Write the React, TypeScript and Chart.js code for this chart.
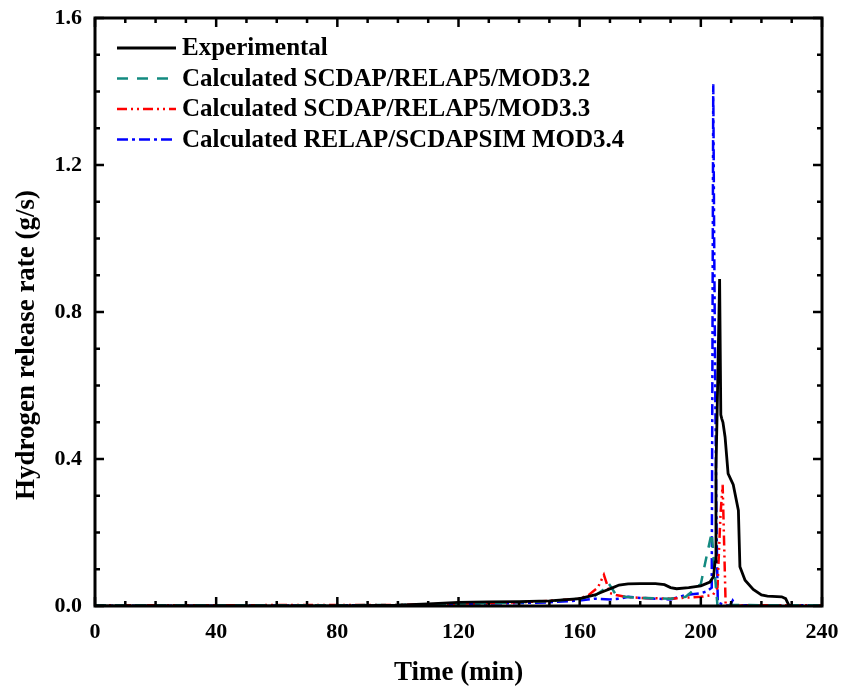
import React, { useEffect, useRef } from "react";
import { Chart, registerables } from "chart.js";

Chart.register(...registerables);

// ---- Data (time in min, hydrogen release rate in g/s) ----
const expTime = [0, 20, 40, 60, 80, 100, 110, 120, 130, 140, 150, 160, 165, 168, 171, 173, 176, 180, 185, 188, 190, 192, 196, 200, 203, 204.2, 204.7, 205.0, 205.6, 206.2, 206.6, 206.9, 207.3, 208, 209, 210.7, 212.4, 212.9, 214.6, 217.3, 220, 222, 226.7, 228, 229, 230];
const expRate = [0, 0, 0, 0, 0, 0.002, 0.006, 0.01, 0.011, 0.012, 0.014, 0.02, 0.03, 0.04, 0.05, 0.057, 0.06, 0.061, 0.061, 0.058, 0.05, 0.047, 0.05, 0.055, 0.065, 0.08, 0.12, 0.37, 0.62, 0.89, 0.52, 0.51, 0.5, 0.46, 0.36, 0.33, 0.26, 0.107, 0.07, 0.045, 0.03, 0.027, 0.025, 0.02, 0.003, 0];

const mod32Time = [0, 40, 80, 100, 120, 140, 150, 160, 165, 168, 169.5, 170.5, 172, 175, 180, 190, 195, 200, 201.5, 203.6, 204.5, 205.5, 210, 220, 230, 240];
const mod32Rate = [0.002, 0.002, 0.002, 0.003, 0.006, 0.01, 0.013, 0.02, 0.028, 0.045, 0.062, 0.05, 0.03, 0.025, 0.022, 0.02, 0.025, 0.06, 0.12, 0.2, 0.1, 0.0, 0.003, 0.002, 0.002, 0.002];

const mod33Time = [0, 40, 80, 100, 120, 140, 150, 160, 163, 166, 168, 169, 170, 172, 175, 180, 190, 200, 204, 205.5, 206.5, 207.2, 207.6, 208.2, 215, 240];
const mod33Rate = [0.002, 0.002, 0.003, 0.003, 0.006, 0.01, 0.014, 0.02, 0.03, 0.05, 0.085, 0.06, 0.035, 0.03, 0.025, 0.022, 0.02, 0.025, 0.03, 0.05, 0.25, 0.33, 0.2, 0.0, 0.002, 0.002];

const mod34Time = [0, 40, 80, 100, 120, 140, 150, 160, 165, 170, 173, 176, 180, 185, 190, 195, 200, 202, 203.6, 204.1, 204.4, 204.8, 205.2, 205.6, 207, 209.5, 210.5, 211.5, 215, 240];
const mod34Rate = [0.001, 0.001, 0.002, 0.002, 0.005, 0.008, 0.01, 0.015, 0.02, 0.018, 0.02, 0.025, 0.022, 0.02, 0.018, 0.03, 0.035, 0.04, 0.05, 1.42, 1.0, 0.55, 0.2, 0.01, 0.005, 0.0, 0.015, 0.0, 0.002, 0.002];

const seriesLabels = [
  "Experimental",
  "Calculated SCDAP/RELAP5/MOD3.2",
  "Calculated SCDAP/RELAP5/MOD3.3",
  "Calculated RELAP/SCDAPSIM MOD3.4",
];

const xTitle = "Time (min)";
const yTitle = "Hydrogen release rate (g/s)";

const FONT = "'Liberation Serif', 'Times New Roman', serif";

const toPoints = (xs: number[], ys: number[]) => xs.map((x, i) => ({ x, y: ys[i] }));

const framePlugin = {
  id: "frameTicks",
  afterDraw(chart: any) {
    const { ctx, chartArea } = chart;
    const { left, right, top, bottom } = chartArea;
    const xs = chart.scales.x;
    const ys = chart.scales.y;
    ctx.save();
    ctx.strokeStyle = "#000";
    ctx.lineWidth = 2.5;
    ctx.lineCap = "butt";
    ctx.beginPath();
    for (let i = 0; i <= 24; i++) {
      const px = xs.getPixelForValue(i * 10);
      const len = i % 4 === 0 ? 9 : 5;
      ctx.moveTo(px, bottom);
      ctx.lineTo(px, bottom - len);
      ctx.moveTo(px, top);
      ctx.lineTo(px, top + len);
    }
    for (let i = 0; i <= 16; i++) {
      const py = ys.getPixelForValue(i / 10);
      const len = i % 4 === 0 ? 9 : 5;
      ctx.moveTo(left, py);
      ctx.lineTo(left + len, py);
      ctx.moveTo(right, py);
      ctx.lineTo(right - len, py);
    }
    ctx.stroke();
    ctx.lineWidth = 3;
    ctx.strokeRect(left, top, right - left, bottom - top);

    // y-axis title (placed slightly below the axis centre, as in the source figure)
    ctx.font = `bold 27px ${FONT}`;
    ctx.fillStyle = "#000";
    ctx.textAlign = "center";
    ctx.textBaseline = "middle";
    ctx.translate(27, (top + bottom) / 2 + 33);
    ctx.rotate(-Math.PI / 2);
    ctx.fillText(yTitle, 0, 0);
    ctx.restore();
  },
};

const legendPlugin = {
  id: "lineLegend",
  afterDraw(chart: any) {
    const { ctx, chartArea } = chart;
    const { left, top } = chartArea;
    ctx.save();
    ctx.font = `bold 25px ${FONT}`;
    ctx.textBaseline = "middle";
    ctx.textAlign = "left";
    chart.data.datasets.forEach((ds: any, i: number) => {
      const y = top + 30 + i * 30.5;
      ctx.strokeStyle = ds.borderColor;
      ctx.lineWidth = ds.borderWidth;
      ctx.setLineDash(ds.borderDash || []);
      ctx.beginPath();
      ctx.moveTo(left + 22, y);
      ctx.lineTo(left + 81, y);
      ctx.stroke();
      ctx.setLineDash([]);
      ctx.fillStyle = "#000";
      ctx.fillText(ds.label, left + 87, y + 1);
    });
    ctx.restore();
  },
};

export default function App() {
  const ref = useRef<HTMLCanvasElement | null>(null);

  useEffect(() => {
    if (!ref.current) return;
    const chart = new Chart(ref.current, {
      type: "line",
      data: {
        datasets: [
          {
            label: seriesLabels[0],
            data: toPoints(expTime, expRate),
            borderColor: "#000000",
            borderWidth: 2.8,
            borderDash: [],
            pointRadius: 0,
            tension: 0,
          },
          {
            label: seriesLabels[1],
            data: toPoints(mod32Time, mod32Rate),
            borderColor: "#138a80",
            borderWidth: 2.5,
            borderDash: [11, 9],
            pointRadius: 0,
            tension: 0,
          },
          {
            label: seriesLabels[2],
            data: toPoints(mod33Time, mod33Rate),
            borderColor: "#ff0000",
            borderWidth: 2.5,
            borderDash: [10, 4, 2, 4, 2, 4],
            pointRadius: 0,
            tension: 0,
          },
          {
            label: seriesLabels[3],
            data: toPoints(mod34Time, mod34Rate),
            borderColor: "#0000ff",
            borderWidth: 2.5,
            borderDash: [11, 4, 3, 4],
            pointRadius: 0,
            tension: 0,
          },
        ],
      },
      options: {
        animation: false,
        responsive: false,
        layout: { padding: { top: 18, right: 20, left: 0, bottom: 0 } },
        plugins: {
          legend: { display: false },
          tooltip: { enabled: false },
        },
        scales: {
          x: {
            type: "linear",
            min: 0,
            max: 240,
            grid: { display: false, drawTicks: false },
            border: { display: false },
            ticks: {
              stepSize: 40,
              padding: 13,
              color: "#000",
              maxRotation: 0,
              autoSkip: false,
              font: { family: FONT, size: 22, weight: "bold" },
            },
            title: {
              display: true,
              text: xTitle,
              color: "#000",
              font: { family: FONT, size: 27, weight: "bold", lineHeight: 1 },
              padding: { top: 0, bottom: 1 },
            },
            afterFit: (s: any) => {
              s.height = 82;
              s.paddingLeft = 0;
              s.paddingRight = 0;
            },
          },
          y: {
            type: "linear",
            min: 0,
            max: 1.6,
            grid: { display: false, drawTicks: false },
            border: { display: false },
            ticks: {
              stepSize: 0.4,
              padding: 13,
              color: "#000",
              autoSkip: false,
              font: { family: FONT, size: 22, weight: "bold" },
              callback: (v: any) => Number(v).toFixed(1),
            },
            title: { display: false },
            afterFit: (s: any) => {
              s.width = 95;
              s.paddingTop = 0;
              s.paddingBottom = 0;
            },
          },
        },
      },
      plugins: [framePlugin, legendPlugin],
    });
    return () => chart.destroy();
  }, []);

  return (
    <div style={{ position: "fixed", left: 0, top: 0, width: 842, height: 688, background: "#fff" }}>
      <canvas ref={ref} width={842} height={688} style={{ display: "block" }} />
    </div>
  );
}
